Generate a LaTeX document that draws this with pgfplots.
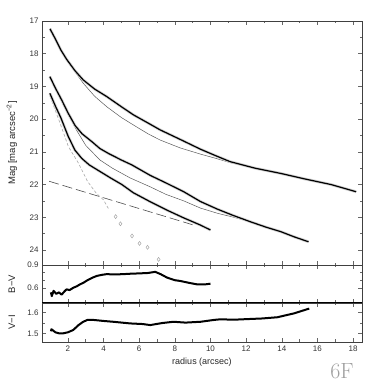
\documentclass[border=0pt]{standalone}
\usepackage{fontspec}
\setsansfont{Liberation Sans}
\usepackage{pgfplots}
\pgfplotsset{compat=1.18}
\begin{document}
\begin{tikzpicture}[x=1pt,y=1pt]
\path[use as bounding box] (0,0) rectangle (382,382);
\pgfplotsset{
  every axis/.append style={
    scale only axis, width=320pt, xmin=0.55, xmax=18.5,
    xtick={2,4,...,18}, minor x tick num=1,
    tick align=inside, major tick length=4pt, minor tick length=2.5pt,
    every tick/.style={black!60, line width=0.5pt},
    axis line style={black!75, line width=0.6pt},
    tick label style={font=\sffamily\fontsize{8}{9}\selectfont, text=black!80},
    /pgf/number format/assume math mode=true,
    clip=true,
  },
  every axis y label/.style={at={(axis description cs:-0.094,0.5)}, rotate=90, anchor=center,
     font=\sffamily\fontsize{9.5}{11}\selectfont, text=black!85},
  every axis x label/.append style={font=\sffamily\fontsize{9}{10}\selectfont, text=black!85},
  thickdata/.style={black, line width=1.2pt, line join=round, no marks,
     preaction={draw, gray!35, line width=2.8pt}},
  thinmodel/.style={black!65, line width=0.5pt, no marks},
}
% ---------------- main panel ----------------
\begin{axis}[at={(42pt,117pt)}, anchor=south west, height=244pt,
  y dir=reverse, ymin=17, ymax=24.46, ytick={17,...,24}, minor y tick num=1,
  xticklabels={}, ylabel={Mag [mag arcsec\textsuperscript{−2}]}]
% disk (dashed)
\addplot[black!70, line width=0.6pt, dash pattern=on 10pt off 4pt] coordinates {(0.95,21.9) (9.0,23.23)};
% bulge (dashed grey, then diamonds)
\addplot[gray!70, line width=0.6pt, densely dashed, no marks] coordinates {
(1.0,19.3) (1.48,20.0) (2.03,20.84) (2.6,21.35) (3.1,21.9) (3.6,22.27) (4.0,22.47) (4.27,22.73)};
\addplot[only marks, mark=diamond, mark size=2pt, gray!70, mark options={line width=0.5pt}] coordinates {
(4.68,22.98) (4.95,23.2) (5.6,23.57) (6.02,23.8) (6.47,23.92) (7.09,24.29)};
% thin models
\addplot[thinmodel] coordinates {
(1.0,17.24) (1.5,17.8) (2.0,18.25) (2.86,18.9) (3.5,19.3) (4.18,19.62) (5.0,19.95) (5.68,20.18)
(6.5,20.45) (7.18,20.64) (8.3,20.88) (9.44,21.07) (10.3,21.2) (11.1,21.33) (12.5,21.5) (13.94,21.66)
(15.3,21.83) (16.76,22.0) (18.17,22.22)};
\addplot[thinmodel] coordinates {
(0.99,18.7) (1.5,19.3) (2.0,19.85) (2.5,20.35) (3.0,20.8) (3.8,21.25) (4.5,21.5) (5.5,21.8)
(6.62,22.07) (7.5,22.3) (8.5,22.5) (9.44,22.72) (10.4,22.88) (11.3,23.0) (12.25,23.14)
(13.1,23.3) (13.94,23.44) (14.7,23.6) (15.5,23.75)};
% thick data
\addplot[thickdata] coordinates {
(1.0,17.24) (1.3,17.55) (1.6,17.88) (1.93,18.17) (2.4,18.52) (2.86,18.8) (3.5,19.08) (4.18,19.31)
(5.0,19.62) (5.68,19.87) (6.5,20.12) (7.18,20.33) (8.3,20.62) (9.44,20.92) (10.3,21.12) (11.1,21.3)
(12.5,21.5) (13.94,21.66) (15.3,21.83) (16.76,22.0) (18.17,22.22)};
\addplot[thickdata] coordinates {
(0.99,18.7) (1.3,19.05) (1.66,19.42) (2.0,19.8) (2.41,20.2) (2.8,20.45) (3.35,20.69) (3.8,20.9)
(4.28,21.05) (5.0,21.25) (5.59,21.4) (6.62,21.72) (7.5,21.95) (8.5,22.22) (9.44,22.52) (10.38,22.75)
(11.3,22.95) (12.25,23.14) (13.1,23.3) (13.94,23.44) (14.7,23.6) (15.5,23.75)};
\addplot[thickdata] coordinates {
(0.99,19.21) (1.3,19.6) (1.6,19.95) (2.03,20.54) (2.4,20.95) (2.78,21.2) (3.2,21.4) (3.8,21.6)
(4.4,21.8) (5.03,22.0) (5.67,22.25) (6.6,22.52) (7.55,22.78) (8.5,23.02) (9.44,23.24) (10.0,23.39)};
\draw[black, line width=1pt] (rel axis cs:0,0) -- (rel axis cs:1,0);
\end{axis}
% ---------------- B-V panel ----------------
\begin{axis}[at={(42pt,79pt)}, anchor=south west, height=38pt,
  ymin=0.4, ymax=0.9, ytick={0.6,0.9}, minor y tick num=2,
  yticklabel style={/pgf/number format/fixed, /pgf/number format/precision=1},
  xticklabels={}, ylabel={B−V}]
\addplot[black, line width=2pt, line join=round, no marks] coordinates {
(1.05,0.54) (1.1,0.49) (1.2,0.56) (1.35,0.52) (1.5,0.54) (1.65,0.51) (1.8,0.55) (1.93,0.58)
(2.1,0.57) (2.3,0.6) (2.5,0.62) (2.68,0.645) (2.9,0.67) (3.1,0.7) (3.35,0.73) (3.62,0.756)
(3.9,0.77) (4.18,0.78) (4.6,0.775) (5.12,0.78) (5.5,0.785) (6.06,0.79) (6.5,0.795) (6.9,0.81)
(7.2,0.78) (7.56,0.735) (8.0,0.7) (8.3,0.69) (8.8,0.665) (9.25,0.645) (9.7,0.645) (10.0,0.654)};
\draw[black, line width=1pt] (rel axis cs:0,0) -- (rel axis cs:1,0);
\end{axis}
% ---------------- V-I panel ----------------
\begin{axis}[at={(42pt,40pt)}, anchor=south west, height=39pt,
  ymin=1.458, ymax=1.647, ytick={1.5,1.6}, minor y tick num=1,
  yticklabel style={/pgf/number format/fixed, /pgf/number format/precision=1},
  xlabel={radius (arcsec)}, ylabel={V−I}]
\addplot[black, line width=2pt, line join=round, no marks] coordinates {
(1.05,1.51) (1.08,1.52) (1.3,1.505) (1.5,1.5) (1.74,1.5) (2.0,1.505) (2.3,1.516) (2.6,1.54)
(2.86,1.556) (3.1,1.565) (3.43,1.565) (4.0,1.56) (4.55,1.556) (5.5,1.548) (6.2,1.545) (6.62,1.54)
(7.3,1.55) (7.93,1.556) (8.6,1.552) (9.44,1.556) (10.2,1.565) (10.56,1.568) (11.3,1.566) (12.07,1.569)
(12.9,1.572) (13.76,1.578) (14.2,1.587) (14.7,1.597) (15.1,1.608) (15.54,1.62)};
\end{axis}
\node[text=gray!75, font=\rmfamily\fontsize{22}{22}\selectfont, anchor=base, inner sep=0pt] at (342,4) {6F};
\end{tikzpicture}
\end{document}
